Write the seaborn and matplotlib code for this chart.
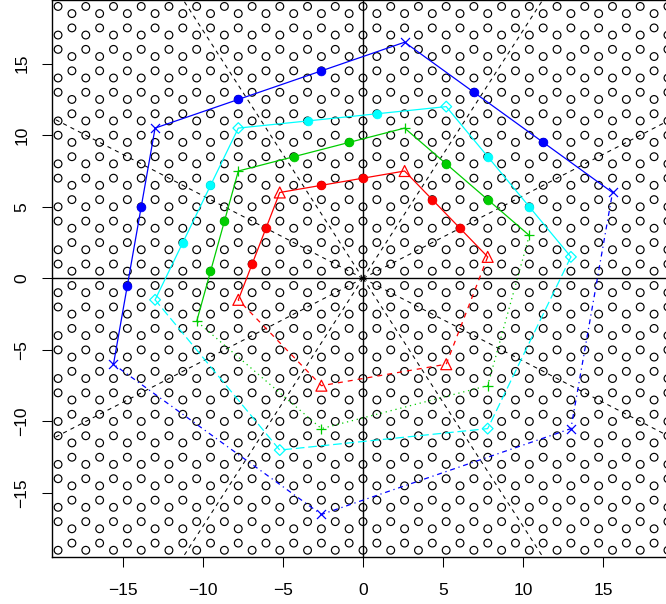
import numpy as np
import pandas as pd
import matplotlib
matplotlib.use("Agg")
import matplotlib.pyplot as plt
import seaborn as sns

# ---------------- data ----------------
# honeycomb background lattice (bond length 1, origin at a hexagon centre)
bond = 1.0
col_range = (-24, 24)        # column index k -> x = k*sqrt(3)/2
row_range = (-8, 8)          # repeat index n
even_col_y = [1.0, 2.0]      # y offsets (mod 3) in even columns
odd_col_y = [-0.5, 0.5]      # y offsets (mod 3) in odd columns

# dashed rays from the origin (degrees)
ray_angles = [30, 60, 120, 150, 210, 240, 300, 330]

# hexagon vertices, order: lower-left, upper-left, top, right, lower-right, bottom
red_x = [-7.79, -5.20, 2.60, 7.79, 5.20, -2.60]
red_y = [-1.5, 6.0, 7.5, 1.5, -6.0, -7.5]
green_x = [-10.39, -7.79, 2.60, 10.39, 7.79, -2.60]
green_y = [-3.0, 7.5, 10.5, 3.0, -7.5, -10.5]
cyan_x = [-12.99, -7.79, 5.20, 12.99, 7.79, -5.20]
cyan_y = [-1.5, 10.5, 12.0, 1.5, -10.5, -12.0]
blue_x = [-15.59, -12.99, 2.60, 15.59, 12.99, -2.60]
blue_y = [-6.0, 10.5, 16.5, 6.0, -10.5, -16.5]

# filled points on the upper edges
red_dot_x = [-6.93, -6.06, -2.60, 0.00, 4.33, 6.06]
red_dot_y = [1.0, 3.5, 6.5, 7.0, 5.5, 3.5]
green_dot_x = [-9.53, -8.66, -4.33, -0.87, 5.20, 7.79]
green_dot_y = [0.5, 4.0, 8.5, 9.5, 8.0, 5.5]
cyan_dot_x = [-11.26, -9.53, -3.46, 0.87, 7.79, 10.39]
cyan_dot_y = [2.5, 6.5, 11.0, 11.5, 8.5, 5.0]
blue_dot_x = [-14.72, -13.86, -7.79, -2.60, 6.93, 11.26]
blue_dot_y = [-0.5, 5.0, 12.5, 14.5, 13.0, 9.5]

ticks = [-15, -10, -5, 0, 5, 10, 15]
lim = 19.45

# ---------------- figure ----------------
plt.rcParams['font.family'] = ['Liberation Sans', 'DejaVu Sans']
fig = plt.figure(figsize=(6.66, 6.04), dpi=100)
W, H = 666, 604
left_px, right_px, top_px, bot_px = 51.7, 674.3, 0.0, 556.7
ax = fig.add_axes([left_px / W, (H - bot_px) / H, (right_px - left_px) / W, (bot_px - top_px) / H])

# lattice
lx, ly = [], []
h = np.sqrt(3) / 2 * bond
for k in range(col_range[0], col_range[1] + 1):
    offs = even_col_y if k % 2 == 0 else odd_col_y
    for n in range(row_range[0], row_range[1] + 1):
        for o in offs:
            lx.append(k * h)
            ly.append(3 * n * bond + o * bond)
lat = pd.DataFrame({"x": lx, "y": ly})
sns.scatterplot(data=lat, x="x", y="y", ax=ax, marker="o", s=31,
                facecolor="none", edgecolor="black", linewidth=0.85, zorder=1, legend=False)

# axis lines
ax.axhline(0, color="black", lw=1.0, zorder=2)
ax.axvline(0, color="black", lw=1.0, zorder=2)

# rays
R = 40
for a in ray_angles:
    t = np.deg2rad(a)
    rd = pd.DataFrame({"x": [0, R * np.cos(t)], "y": [0, R * np.sin(t)]})
    sns.lineplot(data=rd, x="x", y="y", ax=ax, sort=False, estimator=None,
                 color="black", lw=0.75, linestyle=(0, (4, 4)), zorder=3)

polys = [
    (red_x, red_y, red_dot_x, red_dot_y, "#FF0000", "^", 62, (0, (4, 4))),
    (green_x, green_y, green_dot_x, green_dot_y, "#00CD00", "+", 62, (0, (1, 3))),
    (cyan_x, cyan_y, cyan_dot_x, cyan_dot_y, "#00FFFF", "D", 30, (0, (7, 3))),
    (blue_x, blue_y, blue_dot_x, blue_dot_y, "#0000FF", "x", 42, (0, (1, 3, 4, 3))),
]

for vx, vy, dx, dy, col, mk, ms, ls in polys:
    upper = pd.DataFrame({"x": vx[:4], "y": vy[:4]})
    lower = pd.DataFrame({"x": vx[3:] + vx[:1], "y": vy[3:] + vy[:1]})
    sns.lineplot(data=upper, x="x", y="y", ax=ax, sort=False, estimator=None,
                 color=col, lw=0.9, zorder=4)
    sns.lineplot(data=lower, x="x", y="y", ax=ax, sort=False, estimator=None,
                 color=col, lw=0.9, linestyle=ls, zorder=4)
    verts = pd.DataFrame({"x": vx, "y": vy})
    if mk in ("+", "x"):
        sns.scatterplot(data=verts, x="x", y="y", ax=ax, marker=mk, s=ms,
                        color=col, linewidth=0.9, zorder=5, legend=False)
    else:
        sns.scatterplot(data=verts, x="x", y="y", ax=ax, marker=mk, s=ms,
                        facecolor="none", edgecolor=col, linewidth=0.9, zorder=5, legend=False)
    dots = pd.DataFrame({"x": dx, "y": dy})
    sns.scatterplot(data=dots, x="x", y="y", ax=ax, marker="o", s=40,
                    color=col, edgecolor=col, linewidth=0.5, zorder=5, legend=False)

ax.set_xlim(-lim, lim)
ax.set_ylim(-lim, lim)
ax.set_xticks(ticks)
ax.set_yticks(ticks)
ax.set_xticklabels([str(t).replace("-", "\u2212") for t in ticks])
ax.set_yticklabels([str(t).replace("-", "\u2212") for t in ticks], rotation=90, va="center")
ax.tick_params(direction="out", length=7.2, width=0.75, labelsize=12.5, colors="black")
ax.tick_params(axis="x", pad=12)
ax.tick_params(axis="y", pad=9)
ax.set_xlabel("")
ax.set_ylabel("")
for s in ax.spines.values():
    s.set_color("black")
    s.set_linewidth(1.0)

fig.savefig("out.png", dpi=100)
